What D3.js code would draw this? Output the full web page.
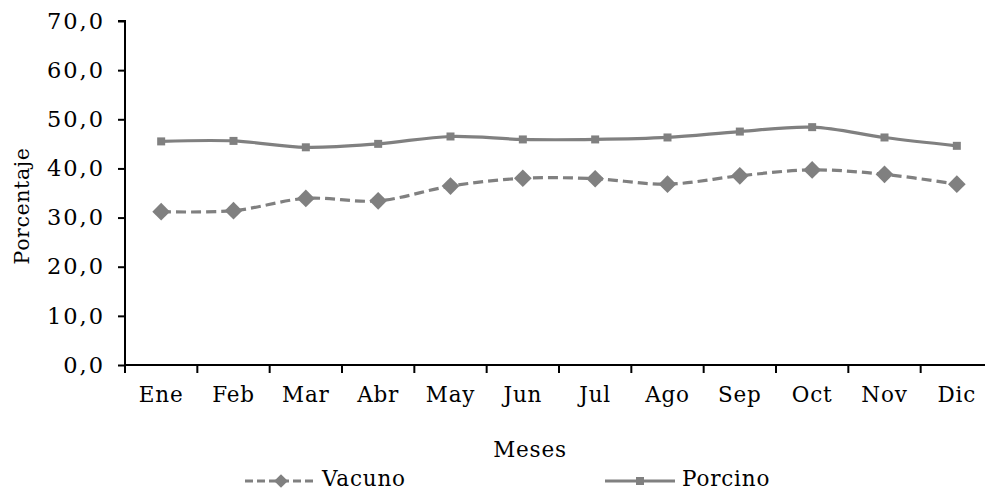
<!DOCTYPE html>
<html><head><meta charset="utf-8">
<script src="https://cdn.jsdelivr.net/npm/d3@7"></script>
<style>body{margin:0;background:#fff}svg{display:block}text{font-family:"DejaVu Serif",serif;fill:#000;letter-spacing:0.8px}</style>
</head><body>
<script>
const months = ["Ene","Feb","Mar","Abr","May","Jun","Jul","Ago","Sep","Oct","Nov","Dic"];
const vacuno = [31.2,31.4,33.9,33.4,36.4,38.0,37.9,36.8,38.5,39.7,38.8,36.8];
const porcino = [45.5,45.6,44.3,45.0,46.5,45.9,45.9,46.3,47.5,48.4,46.3,44.6];
const yTicks = [0,10,20,30,40,50,60,70];
const seriesNames = ["Vacuno","Porcino"];

const W=985,H=491,FS="21.5px";
const svg=d3.select("body").append("svg").attr("width",W).attr("height",H);
const x=d3.scaleBand().domain(months).range([125,993]);
const y=d3.scaleLinear().domain([0,70]).range([365,21]);
const fmt=v=>d3.format(".1f")(v).replace(".",",");

const ya=svg.append("g").attr("transform","translate(125,0)")
  .call(d3.axisLeft(y).tickValues(yTicks).tickFormat(fmt).tickSize(7).tickPadding(13));
ya.select(".domain").attr("stroke","#000").attr("stroke-width",2).attr("d","M-7,21H0V365");
ya.selectAll(".tick line").attr("stroke","#000").attr("stroke-width",2);
ya.selectAll("text").style("font-size","22.5px").style("font-family","DejaVu Serif").style("letter-spacing","2px");

const xa=svg.append("g").attr("transform","translate(0,365)")
  .call(d3.axisBottom(x).tickSize(0).tickPadding(22));
xa.select(".domain").attr("stroke","#000").attr("stroke-width",2).attr("d","M125,0H993");
xa.selectAll("text").style("font-size",FS).style("font-family","DejaVu Serif");
const bounds=months.map(m=>x(m)).concat([x.range()[1]]);
svg.append("g").selectAll("line").data(bounds).join("line")
  .attr("x1",d=>d).attr("x2",d=>d).attr("y1",365).attr("y2",373)
  .attr("stroke","#000").attr("stroke-width",2);

const cx=m=>x(m)+x.bandwidth()/2;
const line=d3.line().x((d,i)=>cx(months[i])).y(d=>y(d)).curve(d3.curveCatmullRom.alpha(0.5));
const col="#808080";
svg.append("path").attr("d",line(porcino)).attr("fill","none").attr("stroke",col).attr("stroke-width",3.2);
svg.append("path").attr("d",line(vacuno)).attr("fill","none").attr("stroke",col).attr("stroke-width",3.2).attr("stroke-dasharray","10,5");
svg.append("g").selectAll("rect").data(porcino).join("rect")
  .attr("x",(d,i)=>cx(months[i])-4).attr("y",d=>y(d)-4).attr("width",8).attr("height",8).attr("fill",col);
const diamond=d3.symbol().type(d3.symbolDiamond2).size(200);
svg.append("g").selectAll("path").data(vacuno).join("path")
  .attr("d",diamond).attr("transform",(d,i)=>`translate(${cx(months[i])},${y(d)})`).attr("fill",col);

svg.append("text").attr("x",530).attr("y",457).attr("text-anchor","middle").style("font-size",FS).text("Meses");
svg.append("text").attr("transform","translate(29,206) rotate(-90)").attr("text-anchor","middle").style("font-size","20.5px").style("letter-spacing","0.6px").text("Porcentaje");

const lg=svg.append("g");
lg.append("line").attr("x1",245).attr("x2",317).attr("y1",481).attr("y2",481).attr("stroke",col).attr("stroke-width",3.2).attr("stroke-dasharray","8,4");
lg.append("path").attr("d",d3.symbol().type(d3.symbolDiamond2).size(120)).attr("transform","translate(281,481)").attr("fill",col);
lg.append("text").attr("x",322).attr("y",486).style("font-size",FS).text(seriesNames[0]);
lg.append("line").attr("x1",605).attr("x2",675).attr("y1",481).attr("y2",481).attr("stroke",col).attr("stroke-width",3.2);
lg.append("rect").attr("x",636).attr("y",477).attr("width",8).attr("height",8).attr("fill",col);
lg.append("text").attr("x",682).attr("y",486).style("font-size",FS).text(seriesNames[1]);
</script>
</body></html>
